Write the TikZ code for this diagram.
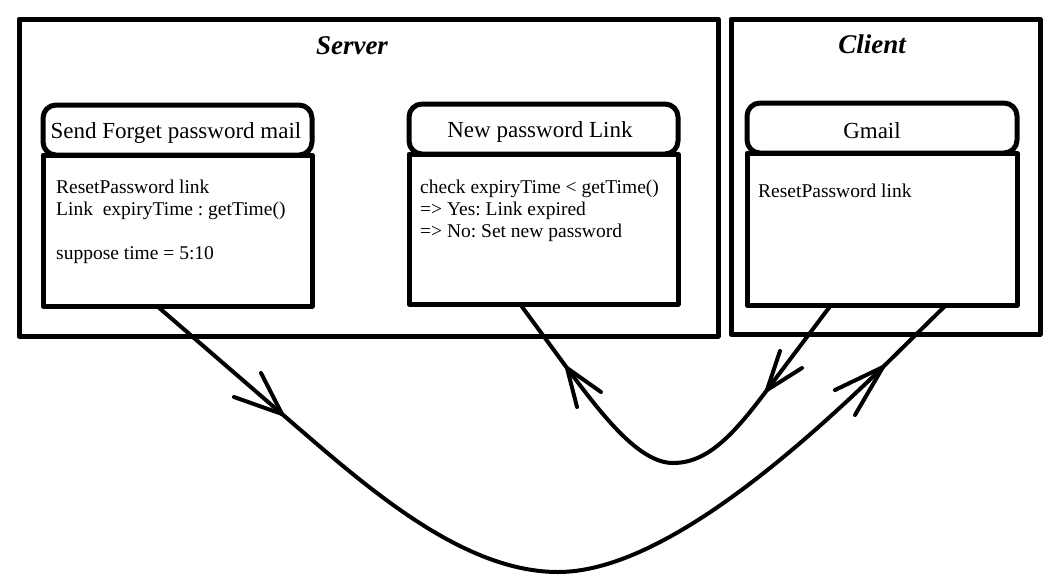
\documentclass[tikz,border=0pt]{standalone}
\usepackage{fontspec}
\setmainfont{Liberation Serif}
\frenchspacing
\begin{document}
\begin{tikzpicture}[x=1pt,y=-1pt,line join=round,
  groupbox/.style={draw,line width=5pt,inner sep=0pt,outer sep=0pt,anchor=north west},
  headbox/.style={draw,line width=5pt,rounded corners=13pt,inner sep=0pt,outer sep=0pt,anchor=north west,minimum height=50pt},
  bodybox/.style={draw,line width=5pt,inner sep=0pt,outer sep=0pt,anchor=north west},
  grouptitle/.style={font=\fontsize{27}{30}\selectfont\bfseries\itshape,anchor=base,inner sep=0pt},
  statetitle/.style={font=\fontsize{23}{27}\selectfont,anchor=base,inner sep=0pt},
  bodytext/.style={font=\fontsize{19.5}{22}\selectfont,anchor=base west,align=left,inner sep=0pt},
  flow/.style={line width=4pt,line cap=round},
  barb/.style={line width=4pt,line cap=round}]
\useasboundingbox (0,0) rectangle (1054,587);
\fill[white] (0,0) rectangle (1054,587);
% groups
\node[groupbox,minimum width=699pt,minimum height=317pt] (server) at (19,19) {};
\node[groupbox,minimum width=309pt,minimum height=315pt] (client) at (731,19) {};
\node[grouptitle] (servertitle) at (352,54) {Server};
\node[grouptitle] (clienttitle) at (872,53) {Client};
% state 1 (multi-line text: base anchor = last line)
\node[bodybox,minimum width=269pt,minimum height=151pt] (b1) at (43,155) {};
\node[headbox,minimum width=269pt] (h1) at (43,105) {};
\node[statetitle] (t1) at (176,138) {Send Forget password mail};
\node[bodytext] (x1) at (56,259) {ResetPassword link\\Link~~expiryTime : getTime()\\[22pt]suppose time = 5:10};
% state 2
\node[bodybox,minimum width=269pt,minimum height=150pt] (b2) at (409,154) {};
\node[headbox,minimum width=269pt] (h2) at (409,104) {};
\node[statetitle] (t2) at (540,137) {New password Link};
\node[bodytext] (x2) at (420,237) {check expiryTime < getTime()\\=> Yes: Link expired\\=> No: Set new password};
% state 3
\node[bodybox,minimum width=270pt,minimum height=152pt] (b3) at (747,153) {};
\node[headbox,minimum width=270pt] (h3) at (747,103) {};
\node[statetitle] (t3) at (872,138) {Gmail};
\node[bodytext] (x3) at (758,197) {ResetPassword link};
% connector end points
\coordinate (s1) at ([xshift=114pt]b1.south west);
\coordinate (s2) at ([xshift=111pt]b2.south west);
\coordinate (s3a) at ([xshift=84pt]b3.south west);
\coordinate (s3b) at ([xshift=199pt]b3.south west);
\coordinate (tipA) at (282,414);
\coordinate (tipB) at (883,367);
\coordinate (tipC) at (567,368);
\coordinate (tipD) at (767,390);
\coordinate (lowA) at (558,572);
\coordinate (lowB) at (673,463);
% big curve
\draw[flow] (s1) -- (tipA) .. controls (358,479) and (458,572) .. (lowA)
  .. controls (658,572) and (790,457) .. (tipB) -- (s3b);
% small curve
\draw[flow] (s2) -- (tipC) .. controls (600,412) and (638,463) .. (lowB)
  .. controls (708,463) and (734,434) .. (tipD) -- (s3a);
% arrow heads
\draw[barb] (tipA) -- ++(-48,-17) (tipA) -- ++(-21,-41);
\draw[barb] (tipB) -- ++(-48,23) (tipB) -- ++(-28,48);
\draw[barb] (tipC) -- ++(10,39) (tipC) -- ++(34,24);
\draw[barb] (tipD) -- ++(13,-39) (tipD) -- ++(35,-22);
\end{tikzpicture}
\end{document}
